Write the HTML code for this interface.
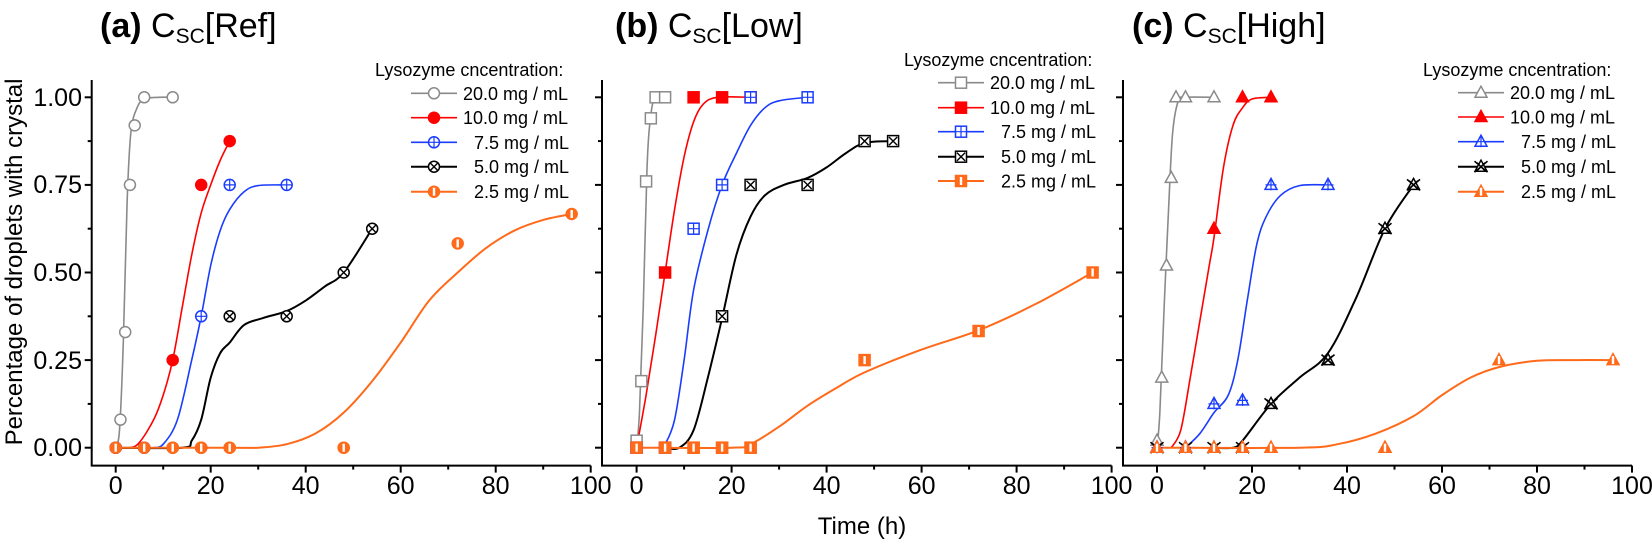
<!DOCTYPE html>
<html><head><meta charset="utf-8"><style>
html,body{margin:0;padding:0;background:#fff;}
svg{display:block;font-family:"Liberation Sans",Arial,sans-serif;}
</style></head><body>
<svg id="s" width="1652" height="541" viewBox="0 0 1652 541" xmlns="http://www.w3.org/2000/svg">
<g font-size="34" fill="#000">
<text x="100" y="37"><tspan font-weight="bold">(a)</tspan> C<tspan font-size="21" dy="6">SC</tspan><tspan dy="-6">[Ref]</tspan></text>
<text x="615" y="37"><tspan font-weight="bold">(b)</tspan> C<tspan font-size="21" dy="6">SC</tspan><tspan dy="-6">[Low]</tspan></text>
<text x="1132" y="37"><tspan font-weight="bold">(c)</tspan>  C<tspan font-size="21" dy="6">SC</tspan><tspan dy="-6">[High]</tspan></text>
</g>
<text x="0" y="0" font-size="24" text-anchor="middle" transform="translate(22,262) rotate(-90)">Percentage of droplets with crystal</text>
<text x="862" y="534" font-size="24" text-anchor="middle">Time (h)</text>
<g font-size="25" text-anchor="end">
<text x="82" y="106">1.00</text>
<text x="82" y="193">0.75</text>
<text x="82" y="281">0.50</text>
<text x="82" y="369">0.25</text>
<text x="82" y="456">0.00</text>
</g>
<g id="axes" stroke="#000" stroke-width="2" fill="none"></g>
<g id="xl" font-size="25" text-anchor="middle"></g>
<g id="data"></g>
<g id="leg" font-size="18"></g>
</svg>
<script>
var NS="http://www.w3.org/2000/svg";
function el(p,t,a,txt){var e=document.createElementNS(NS,t);for(var k in a)e.setAttribute(k,a[k]);if(txt!=null)e.textContent=txt;p.appendChild(e);return e;}
var panels=[{x0:115.7,left:91.7},{x0:636.6,left:602},{x0:1157,left:1123}];
var SX=4.75,Y0=447.7,SY=350.4;
var axes=document.getElementById('axes'),xl=document.getElementById('xl');
panels.forEach(function(p){
 var right=p.x0+100*SX;
 el(axes,'path',{d:'M'+p.left+' 80 V465.6 H'+right});
 for(var v=0;v<=1.0001;v+=0.125){var y=Y0-SY*v;var L=(Math.round(v*8)%2==0)?7:4;el(axes,'line',{x1:p.left-L,y1:y,x2:p.left,y2:y});}
 for(var t=0;t<=100;t+=10){var x=p.x0+SX*t;var L=(t%20==0)?7:4;el(axes,'line',{x1:x,y1:465.6,x2:x,y2:465.6+L});
  if(t%20==0)el(xl,'text',{x:x,y:494},String(t));}
});
var C={g:'#8a8a8a',r:'#ff0000',b:'#1a3cff',k:'#000000',o:'#ff6a1a'};
function marker(g,shape,kind,col,x,y){
 var s=5.5,sw=1.5;
 var fill=(kind=='fill'||kind=='half')?col:'#fff';
 if(shape=='c'){
  el(g,'circle',{cx:x,cy:y,r:s,fill:fill,stroke:col,'stroke-width':sw});
 }else if(shape=='s'){
  el(g,'rect',{x:x-s,y:y-s,width:2*s,height:2*s,fill:fill,stroke:col,'stroke-width':sw});
 }else{
  el(g,'polygon',{points:(x)+','+(y-s-1)+' '+(x+s+0.5)+','+(y+s-1)+' '+(x-s-0.5)+','+(y+s-1),fill:fill,stroke:col,'stroke-width':sw});
 }
 if(kind=='plus'){el(g,'path',{d:'M'+(x-s)+' '+y+'H'+(x+s)+'M'+x+' '+(y-s)+'V'+(y+s),stroke:col,'stroke-width':1.2});}
 if(kind=='x'){var d=s*0.75;el(g,'path',{d:'M'+(x-d)+' '+(y-d)+'L'+(x+d)+' '+(y+d)+'M'+(x+d)+' '+(y-d)+'L'+(x-d)+' '+(y+d),stroke:col,'stroke-width':1.4});
   if(shape=='t'){el(g,'path',{d:'M'+(x-s-1)+' '+(y-s)+'L'+(x+s+1)+' '+(y+s)+'M'+(x+s+1)+' '+(y-s)+'L'+(x-s-1)+' '+(y+s),stroke:col,'stroke-width':1.6});}}
 if(kind=='half'){el(g,'rect',{x:x-1.2,y:y-s+1.5,width:2.4,height:2*s-3,fill:'#fff'});}
}
function curve(pts){ // catmull-rom
 var d='M'+pts[0][0]+' '+pts[0][1];
 for(var i=0;i<pts.length-1;i++){
  var p0=pts[Math.max(0,i-1)],p1=pts[i],p2=pts[i+1],p3=pts[Math.min(pts.length-1,i+2)];
  var c1=[p1[0]+(p2[0]-p0[0])/6,p1[1]+(p2[1]-p0[1])/6],c2=[p2[0]-(p3[0]-p1[0])/6,p2[1]-(p3[1]-p1[1])/6];
  d+=' C'+c1[0]+' '+c1[1]+' '+c2[0]+' '+c2[1]+' '+p2[0]+' '+p2[1];}
 return d;}
var data=[
 {shape:'c',series:[
  {c:'g',k:'open',pts:[[0,0],[1,.08],[2,.33],[3,.75],[4,.92],[6,1],[12,1]],cv:[[0,0],[0.8,.05],[1.6,.3],[2.4,.7],[3.2,.9],[4.5,.97],[6,.995],[9,1],[12,1]]},
  {c:'r',k:'fill',pts:[[12,.25],[18,.75],[24,.875]],cv:[[0,0],[3,0],[5,.015],[8,.08],[10,.15],[12,.25],[14,.4],[16,.55],[18,.67],[20,.75],[22,.82],[24,.875]]},
  {c:'b',k:'plus',pts:[[18,.375],[24,.75],[36,.75]],cv:[[8,0],[10,.01],[13,.08],[16,.25],[18,.375],[20,.52],[22,.62],[24,.68],[27,.73],[30,.748],[36,.75]]},
  {c:'k',k:'x',pts:[[0,0],[6,0],[12,0],[18,0],[24,.375],[36,.375],[48,.5],[54,.625]],cv:[[0,0],[14,0],[16,.02],[18,.08],[20,.2],[22,.27],[24,.3],[27,.35],[31,.37],[36,.39],[40,.42],[44,.46],[48,.5],[54,.625]]},
  {c:'o',k:'half',pts:[[0,0],[6,0],[12,0],[18,0],[24,0],[48,0],[72,.583],[96,.667]],cv:[[0,0],[24,0],[30,0],[36,.01],[42,.04],[48,.1],[54,.19],[60,.3],[66,.42],[72,.5],[78,.57],[84,.62],[90,.65],[96,.667]]}
 ]},
 {shape:'s',series:[
  {c:'g',k:'open',pts:[[0,.02],[1,.19],[2,.76],[3,.94],[4,1],[6,1]],cv:[[0,0],[0.6,.1],[1.4,.4],[2.2,.8],[3,.95],[4,1],[6,1]]},
  {c:'r',k:'fill',pts:[[0,0],[6,.5],[12,1],[18,1],[24,1]],cv:[[0,0],[2,.15],[4,.32],[6,.5],[8,.68],[10,.83],[12,.93],[14,.98],[17,1],[24,1]]},
  {c:'b',k:'plus',pts:[[12,.625],[18,.75],[24,1],[36,1]],cv:[[5,0],[6,.01],[8,.08],[10,.25],[12,.45],[15,.62],[18,.75],[21,.84],[24,.92],[27,.97],[30,.99],[36,1]]},
  {c:'k',k:'x',pts:[[18,.375],[24,.75],[36,.75],[48,.875],[54,.875]],cv:[[6,0],[9,0],[12,.05],[15,.2],[18,.37],[21,.55],[24,.66],[27,.72],[31,.75],[36,.77],[40,.8],[44,.84],[48,.87],[54,.875]]},
  {c:'o',k:'half',pts:[[0,0],[6,0],[12,0],[18,0],[24,0],[48,.25],[72,.333],[96,.5]],cv:[[0,0],[20,0],[24,.01],[30,.06],[36,.12],[42,.17],[48,.215],[60,.28],[72,.335],[84,.41],[96,.5]]}
 ]},
 {shape:'t',series:[
  {c:'g',k:'open',pts:[[0,.02],[1,.2],[2,.52],[3,.77],[4,1],[6,1],[12,1]],cv:[[0,0],[0.6,.1],[1.5,.4],[2.5,.7],[3.3,.9],[4.5,.99],[6,1],[12,1]]},
  {c:'r',k:'fill',pts:[[12,.625],[18,1],[24,1]],cv:[[3,0],[5,.05],[7,.2],[9,.36],[11,.52],[12,.6],[14,.8],[16,.92],[18,.97],[20,.995],[24,1]]},
  {c:'b',k:'plus',pts:[[0,0],[12,.125],[18,.135],[24,.75],[36,.75]],cv:[[6,0],[9,.04],[12,.1],[15,.15],[17,.25],[19,.42],[21,.58],[23,.66],[26,.72],[30,.748],[36,.75]]},
  {c:'k',k:'x',pts:[[0,0],[6,0],[12,0],[18,0],[24,.125],[36,.25],[48,.625],[54,.75]],cv:[[12,0],[16,0],[18,.02],[24,.125],[30,.2],[36,.27],[42,.43],[48,.625],[54,.75]]},
  {c:'o',k:'half',pts:[[0,0],[6,0],[12,0],[18,0],[24,0],[48,0],[72,.25],[96,.25]],cv:[[0,0],[30,0],[38,.01],[46,.04],[54,.09],[60,.15],[66,.2],[72,.23],[80,.248],[88,.25],[96,.25]]}
 ]}
];
var dg=document.getElementById('data');
var lw={g:1.6,r:1.6,b:1.6,k:2,o:2};
data.forEach(function(pd,pi){var p=panels[pi];
 pd.series.forEach(function(s){
  var cv=s.cv.map(function(q){return [p.x0+SX*q[0],Y0-SY*q[1]];});
  el(dg,'path',{d:curve(cv),fill:'none',stroke:C[s.c],'stroke-width':lw[s.c]});
 });
 // zero markers for all series at early times drawn first (they overlap)
 pd.series.forEach(function(s){
  s.pts.forEach(function(q){marker(dg,pd.shape,s.k,C[s.c],p.x0+SX*q[0],Y0-SY*q[1]);});
 });
 // 10 and 7.5 also zero points at 0,6
 [1,2].forEach(function(i){var s=pd.series[i];[0,6].forEach(function(t){marker(dg,pd.shape,s.k,C[s.c],p.x0+SX*t,Y0);});});
 var s=pd.series[4];s.pts.forEach(function(q){if(q[1]==0)marker(dg,pd.shape,s.k,C[s.c],p.x0+SX*q[0],Y0);});
});
var leg=document.getElementById('leg');
var L=[{tx:375,ty:76,lx:411,rows:[93.3,117.7,142.3,166.7,191.7]},{tx:904,ty:66,lx:938,rows:[82.7,107.7,131.7,156.7,181]},{tx:1423,ty:76,lx:1458,rows:[92.7,117,141.7,166.7,191.7]}];
var labels=['20.0 mg / mL','10.0 mg / mL',' 7.5 mg / mL',' 5.0 mg / mL',' 2.5 mg / mL'];
var keys=['g','r','b','k','o'];
L.forEach(function(l,pi){
 el(leg,'text',{x:l.tx,y:l.ty},'Lysozyme cncentration:');
 var pd=data[pi];
 l.rows.forEach(function(y,i){var s=pd.series[i];
  el(leg,'line',{x1:l.lx,y1:y,x2:l.lx+46,y2:y,stroke:C[s.c],'stroke-width':lw[s.c]});
  marker(leg,pd.shape,s.k,C[s.c],l.lx+23,y);
  el(leg,'text',{x:l.lx+52+(i>=2?11:0),y:y+6.5},labels[i].trim());
 });
});
</script>
</body></html>
